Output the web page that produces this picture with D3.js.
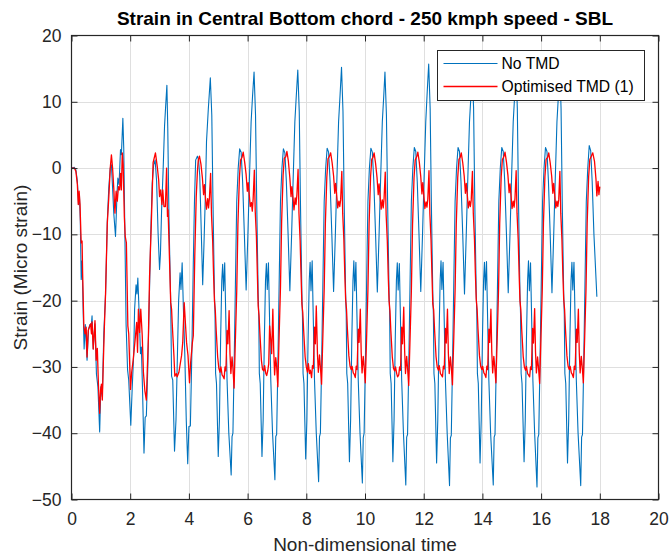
<!DOCTYPE html>
<html>
<head>
<meta charset="utf-8">
<script src="https://cdn.jsdelivr.net/npm/d3@7"></script>
<style>
  body { margin: 0; background: #fff; }
  svg { display: block; font-family: "Liberation Sans", Arial, Helvetica, sans-serif; }
</style>
</head>
<body>
<svg id="chart" width="670" height="554"></svg>
<script>
// Axis ticks
const xTicks = [0, 2, 4, 6, 8, 10, 12, 14, 16, 18, 20];
const yTicks = [-50, -40, -30, -20, -10, 0, 10, 20];

const titleText = "Strain in Central Bottom chord - 250 kmph speed - SBL";
const xLabel = "Non-dimensional time";
const yLabel = "Strain (Micro strain)";
const seriesNames = ["No TMD", "Optimised TMD (1)"];

// Strain without damper: [non-dimensional time, micro strain]
const noTmd = [
  [0,0],[0.1,0.1],[0.15,-0.3],[0.2,-2],[0.24,-5.5],[0.27,-4],[0.3,-8],[0.33,-16.8],[0.36,-14],[0.4,-22],[0.43,-27.3],[0.47,-23.6],[0.53,-29],[0.58,-24.3],[0.63,-23.6],[0.68,-23.5],[0.7,-22.3],[0.74,-27.3],[0.8,-23.5],[0.85,-31.1],[0.9,-33],[0.96,-39.8],[1.0,-33],[1.05,-34.5],[1.1,-25],[1.16,-19],[1.22,-8],[1.27,-3],[1.32,0],[1.36,0.5],[1.4,-3],[1.44,-6.8],[1.5,-10.3],[1.55,-4],[1.58,-1.5],[1.62,-2.5],[1.67,2.8],[1.7,2],[1.75,7.5],[1.78,3],[1.82,-10.3],[1.86,-23.6],[1.91,-30.4],[1.95,-32],
  [2.02,-38.8],[2.07,-33],[2.12,-28],[2.15,-21.3],[2.2,-17.6],[2.23,-19],[2.26,-16.6],[2.3,-21.3],[2.35,-28],[2.38,-27],[2.42,-33.4],[2.47,-43],[2.51,-37.6],[2.55,-37.4],[2.6,-30],[2.64,-22],[2.7,-10],[2.75,-2.3],[2.8,0.5],[2.85,1.2],[2.9,-2],[2.95,-9.8],[3.0,-15.3],[3.03,-13],[3.07,-6.3],[3.12,-0.5],[3.17,6.3],[3.21,9.5],
  [3.25,12.5],[3.28,6],[3.32,-7.3],[3.38,-20.3],[3.41,-31.4],[3.45,-32],[3.51,-42.7],[3.56,-38],[3.61,-28],[3.65,-20],[3.7,-15.8],[3.73,-18.3],[3.77,-14.3],[3.81,-20.8],[3.86,-28],[3.91,-38],[3.96,-44.6],[4.0,-39],[4.05,-38.9],[4.1,-28],[4.15,-14.3],[4.19,-5],[4.23,1.2],[4.29,1.8],[4.33,1.2],[4.37,-1.2],[4.42,-9.3],[4.47,-17.6],[4.51,-12],[4.56,-4.3],[4.6,4],[4.66,8.8],
  [4.73,13.6],[4.78,8],[4.82,-5],[4.87,-19],[4.89,-22],[4.91,-31],[4.94,-32.5],[5.00,-43.5],[5.04,-38],[5.08,-26],[5.12,-17],[5.15,-14.5],[5.18,-18.5],[5.22,-14.3],[5.25,-21],[5.30,-32],[5.36,-40],[5.44,-46.3],[5.47,-40.5],[5.50,-40],[5.54,-30],[5.59,-16],[5.63,-5],[5.68,0],[5.73,2.9],[5.78,2.4],[5.83,-2],[5.89,-10],[5.95,-18.4],[6.01,-10],[6.06,-2],[6.12,7],[6.17,11],
  [6.22,14.5],[6.27,8],[6.31,-5],[6.36,-19],[6.38,-22],[6.40,-31],[6.43,-32.5],[6.49,-43.5],[6.53,-38],[6.57,-26],[6.61,-17],[6.64,-14.4],[6.67,-18.3],[6.71,-14.3],[6.74,-21],[6.79,-32],[6.85,-40],[6.93,-47],[6.96,-40.5],[6.99,-40.2],[7.03,-30],[7.08,-16],[7.12,-5],[7.17,0],[7.22,2.9],[7.27,2.3],[7.32,-2],[7.38,-10],[7.44,-18.5],[7.50,-10],[7.55,-2],[7.61,7],[7.66,11],
  [7.71,14.8],[7.76,8.5],[7.80,-5],[7.85,-19],[7.87,-22.5],[7.89,-31],[7.92,-32.5],[7.98,-43.9],[8.02,-38],[8.06,-26],[8.10,-17],[8.13,-14.2],[8.16,-18.5],[8.20,-14.0],[8.23,-21],[8.28,-32],[8.34,-40],[8.42,-47.3],[8.45,-40.5],[8.48,-40],[8.52,-30],[8.57,-16],[8.61,-5],[8.66,0],[8.71,3.0],[8.76,2.4],[8.81,-2],[8.87,-10],[8.93,-18.6],[8.99,-10],[9.04,-2],[9.10,7],[9.15,11],
  [9.20,15.2],[9.25,8.5],[9.29,-5],[9.34,-19],[9.36,-22],[9.38,-31],[9.41,-32.5],[9.47,-44.3],[9.51,-38],[9.55,-26],[9.59,-17],[9.62,-14.0],[9.65,-18.5],[9.69,-14.2],[9.72,-21],[9.77,-32],[9.83,-40],[9.91,-47.5],[9.94,-40.7],[9.97,-40],[10.01,-30],[10.06,-16],[10.10,-5],[10.15,0],[10.20,3.0],[10.25,2.4],[10.30,-2],[10.36,-10],[10.42,-18.7],[10.48,-10],[10.53,-2],[10.59,7],[10.64,11],
  [10.68,14.5],[10.73,8],[10.77,-5],[10.82,-19],[10.84,-22],[10.86,-31],[10.89,-32.5],[10.95,-44.3],[10.99,-38],[11.03,-26],[11.07,-17],[11.10,-14.3],[11.13,-18.4],[11.17,-14.4],[11.20,-21],[11.25,-32],[11.31,-40],[11.39,-47.8],[11.42,-40.6],[11.45,-40.2],[11.49,-30],[11.54,-16],[11.58,-5],[11.63,0],[11.68,3.1],[11.73,2.5],[11.78,-2],[11.84,-10],[11.90,-18.6],[11.96,-10],[12.01,-2],[12.07,7],[12.12,11.5],
  [12.17,15.7],[12.22,9],[12.26,-5],[12.31,-19],[12.33,-22],[12.35,-31],[12.38,-32.5],[12.44,-44.5],[12.48,-38],[12.52,-26],[12.56,-17],[12.59,-14.0],[12.62,-18.3],[12.66,-14.2],[12.69,-21],[12.74,-32],[12.80,-40],[12.88,-47.9],[12.91,-40.7],[12.94,-40.3],[12.98,-30],[13.03,-16],[13.07,-5],[13.12,0],[13.17,3.1],[13.22,2.5],[13.27,-2],[13.33,-10],[13.39,-19.0],[13.45,-10],[13.50,-2],[13.56,7],[13.61,11],
  [13.65,15.5],[13.70,9],[13.74,-5],[13.79,-19],[13.81,-22],[13.83,-31],[13.86,-32.5],[13.92,-44.5],[13.96,-38],[14.00,-26],[14.04,-17],[14.07,-14.2],[14.10,-18.4],[14.14,-14.1],[14.17,-21],[14.22,-32],[14.28,-40],[14.37,-47.8],[14.40,-40.6],[14.43,-40.2],[14.47,-30],[14.52,-16],[14.56,-5],[14.61,0],[14.66,3.1],[14.71,2.5],[14.76,-2],[14.82,-10],[14.88,-18.8],[14.94,-10],[14.99,-2],[15.05,7],[15.10,11],
  [15.14,16],[15.19,9],[15.23,-5],[15.28,-19],[15.30,-22],[15.32,-31],[15.35,-32.5],[15.42,-44.3],[15.46,-38],[15.50,-26],[15.54,-17],[15.57,-14.0],[15.60,-18.5],[15.64,-14.3],[15.67,-21],[15.72,-32],[15.78,-40],[15.86,-48.1],[15.89,-40.7],[15.92,-40.2],[15.96,-30],[16.01,-16],[16.05,-5],[16.10,0],[16.15,3.1],[16.20,2.5],[16.25,-2],[16.31,-10],[16.37,-18.8],[16.43,-10],[16.48,-2],[16.54,7],[16.59,11],
  [16.63,16],[16.68,9],[16.72,-5],[16.77,-19],[16.79,-22],[16.81,-31],[16.84,-32.5],[16.90,-44.5],[16.94,-38],[16.98,-26],[17.02,-17],[17.05,-14.2],[17.08,-18.4],[17.12,-14.2],[17.15,-21],[17.20,-32],[17.26,-40],[17.35,-47.9],[17.38,-40.6],[17.41,-40.2],[17.45,-30],[17.50,-16],[17.54,-5],[17.59,0],[17.64,3.4],[17.69,2.6],[17.74,-2],[17.80,-10],[17.90,-19.4]
];

// Strain with the optimised tuned mass damper: [non-dimensional time, micro strain]
const withTmd = [
  [0,0],[0.1,0],[0.15,-0.5],[0.2,-2.5],[0.23,-5.5],[0.26,-3.5],[0.29,-5.5],[0.33,-11.3],[0.36,-11],[0.38,-16],[0.42,-23.8],[0.46,-25],[0.5,-24],[0.53,-28.5],[0.57,-24.5],[0.61,-24],[0.65,-23.5],[0.68,-25],[0.7,-23.2],[0.74,-27.3],[0.8,-23],[0.84,-29],[0.88,-27.2],[0.92,-33],[0.96,-37],[0.99,-33.5],[1.02,-32.6],[1.05,-35],[1.08,-30],[1.12,-24],[1.16,-19],[1.22,-8.3],[1.27,-4.5],[1.32,0],[1.36,2],[1.4,0],[1.44,-3],[1.48,-6.8],[1.52,-3.5],[1.56,-5],[1.6,-2.8],[1.64,-3.3],[1.67,-0.8],[1.7,-3.3],[1.73,2.3],[1.76,0.5],[1.8,-7.3],[1.83,-10.3],[1.87,-11.3],[1.92,-23.8],[1.95,-25],
  [2.01,-33.4],[2.05,-30.8],[2.1,-29],[2.17,-25.8],[2.22,-23.3],[2.25,-27.8],[2.28,-21.3],[2.32,-24.8],[2.36,-21.3],[2.41,-25.3],[2.45,-30.8],[2.5,-33.6],[2.55,-35],[2.58,-30.8],[2.62,-25.5],[2.66,-16.3],[2.72,-8.3],[2.78,0.8],[2.86,2.3],[2.92,0.3],[2.97,-1.8],[3.0,-4.3],[3.04,-3.3],[3.08,-5.5],[3.11,-3.3],[3.15,-5.8],[3.2,-5.8],[3.24,0],[3.27,-7.3],[3.29,-6.3],[3.32,-10.8],[3.38,-20.3],[3.41,-21.3],[3.43,-23.3],[3.49,-28.3],[3.52,-31.4],[3.57,-31],[3.6,-31.5],[3.66,-30.8],[3.71,-29.4],[3.75,-28.3],[3.79,-26.3],[3.84,-20.3],[3.88,-23.3],[3.92,-26.3],[3.97,-28.3],[4.02,-32.4],[4.06,-29.3],[4.12,-26.3],[4.15,-25.3],[4.2,-13.3],[4.25,-4.3],[4.29,-0.5],
  [4.32,1.2],[4.36,1.8],[4.41,0.6],[4.46,-1.5],[4.50,-4.0],[4.53,-2.5],[4.57,-4.8],[4.60,-6.2],[4.64,-4.6],[4.67,-6.0],[4.70,-4.5],[4.74,-0.8],[4.77,-7.0],[4.81,-11],[4.84,-16],[4.87,-20],[4.90,-21.5],[4.93,-24.5],[4.98,-28.5],[5.02,-30.2],[5.06,-30.8],[5.09,-30.0],[5.13,-31.2],[5.16,-31.4],[5.20,-31.8],[5.23,-30.0],[5.26,-30.6],[5.30,-24.5],[5.33,-26.5],[5.37,-21.5],[5.40,-28.0],[5.43,-31.0],[5.47,-28.5],[5.50,-30.2],[5.54,-33.2],[5.58,-26.5],[5.63,-18.5],[5.67,-8.5],[5.72,-1.5],[5.76,1.2],
  [5.81,1.6],[5.85,2.4],[5.90,0.9],[5.95,-1.0],[5.99,-3.5],[6.02,-2.2],[6.06,-4.2],[6.09,-5.8],[6.13,-5.2],[6.16,-6.5],[6.19,-4.6],[6.23,-0.3],[6.26,-6.5],[6.30,-10.3],[6.33,-15.5],[6.36,-20.8],[6.39,-22.3],[6.42,-25],[6.47,-29],[6.51,-30.4],[6.55,-30.6],[6.58,-29.8],[6.62,-31.0],[6.65,-31.3],[6.69,-30.5],[6.72,-29.5],[6.75,-23.8],[6.79,-26],[6.82,-28],[6.86,-21.3],[6.89,-27.5],[6.92,-31.2],[6.96,-28.6],[6.99,-30.0],[7.03,-33.0],[7.07,-26.0],[7.12,-18.0],[7.16,-8.0],[7.21,-1.0],[7.25,1.5],
  [7.30,1.7],[7.34,2.5],[7.39,1.0],[7.44,-1.5],[7.48,-4.3],[7.51,-2.8],[7.55,-4.6],[7.58,-6.3],[7.62,-4.5],[7.65,-5.5],[7.68,-4.0],[7.72,-0.2],[7.75,-6.8],[7.79,-11],[7.82,-16],[7.85,-20.5],[7.88,-21.8],[7.91,-24.5],[7.96,-28.5],[8.00,-30.0],[8.04,-30.8],[8.07,-29.5],[8.11,-31.0],[8.14,-30.5],[8.18,-31.6],[8.21,-29.8],[8.24,-30.2],[8.28,-24.0],[8.31,-26.5],[8.34,-20.8],[8.38,-28.0],[8.41,-30.8],[8.45,-28.2],[8.48,-30.0],[8.52,-32.6],[8.56,-26.0],[8.61,-18.2],[8.65,-8.3],[8.70,-1.3],[8.74,1.4],
  [8.79,1.8],[8.83,2.3],[8.88,0.8],[8.93,-1.2],[8.97,-3.8],[9.00,-2.3],[9.04,-4.3],[9.07,-6.0],[9.11,-5.0],[9.14,-5.8],[9.17,-4.8],[9.21,-0.5],[9.24,-6.8],[9.28,-10.8],[9.31,-15.8],[9.34,-19.8],[9.37,-21.3],[9.40,-24.3],[9.45,-28.3],[9.49,-29.9],[9.53,-30.4],[9.56,-29.9],[9.60,-30.9],[9.63,-31.1],[9.67,-31.6],[9.70,-29.9],[9.73,-30.4],[9.77,-24.3],[9.80,-26.3],[9.84,-21.3],[9.87,-27.8],[9.90,-30.9],[9.94,-28.4],[9.97,-29.9],[10.01,-32.4],[10.05,-26.3],[10.10,-18.3],[10.14,-8.3],[10.19,-1.3],[10.23,1.3],
  [10.27,1.6],[10.31,2.3],[10.36,0.7],[10.41,-1.4],[10.45,-4.0],[10.48,-2.4],[10.52,-4.5],[10.55,-6.2],[10.59,-4.8],[10.62,-6.0],[10.65,-4.6],[10.69,-0.6],[10.72,-7.0],[10.76,-11],[10.79,-16],[10.82,-20],[10.85,-21.5],[10.88,-24.5],[10.93,-28.5],[10.97,-30.2],[11.01,-30.6],[11.04,-30.0],[11.08,-31.0],[11.11,-31.5],[11.15,-31.2],[11.18,-30.0],[11.21,-30.5],[11.25,-24.0],[11.28,-26.5],[11.32,-21.0],[11.35,-27.5],[11.38,-31.0],[11.42,-28.4],[11.45,-30.2],[11.49,-32.8],[11.53,-26.5],[11.58,-18.5],[11.62,-8.5],[11.67,-1.5],[11.71,1.2],
  [11.76,1.7],[11.80,2.4],[11.85,0.9],[11.90,-1.3],[11.94,-3.9],[11.97,-2.2],[12.01,-4.4],[12.04,-6.1],[12.08,-5.1],[12.11,-5.9],[12.14,-4.7],[12.18,-0.4],[12.21,-6.9],[12.25,-10.9],[12.28,-15.9],[12.31,-20.5],[12.34,-21.4],[12.37,-24.4],[12.42,-28.4],[12.46,-30.0],[12.50,-30.5],[12.53,-29.8],[12.57,-31.0],[12.60,-31.2],[12.64,-31.5],[12.67,-29.9],[12.70,-30.3],[12.74,-24.2],[12.77,-26.4],[12.81,-21.3],[12.84,-27.9],[12.87,-31.0],[12.91,-28.5],[12.94,-30.0],[12.98,-32.7],[13.02,-26.4],[13.07,-18.4],[13.11,-8.4],[13.16,-1.4],[13.20,1.3],
  [13.24,1.6],[13.28,2.3],[13.33,0.8],[13.38,-1.2],[13.42,-3.8],[13.45,-2.3],[13.49,-4.3],[13.52,-6.0],[13.56,-5.0],[13.59,-5.8],[13.62,-4.8],[13.66,-0.5],[13.69,-6.8],[13.73,-10.8],[13.76,-15.8],[13.79,-19.8],[13.82,-21.3],[13.85,-24.3],[13.90,-28.3],[13.94,-29.9],[13.98,-30.4],[14.01,-29.9],[14.05,-30.9],[14.08,-31.1],[14.12,-31.6],[14.15,-29.9],[14.18,-30.4],[14.22,-24.3],[14.25,-26.3],[14.29,-21.3],[14.32,-27.8],[14.35,-30.9],[14.39,-28.4],[14.42,-29.9],[14.46,-32.4],[14.50,-26.3],[14.55,-18.3],[14.59,-8.3],[14.64,-1.3],[14.68,1.3],
  [14.73,1.7],[14.77,2.4],[14.82,0.9],[14.87,-1.1],[14.91,-3.7],[14.94,-2.4],[14.98,-4.4],[15.01,-6.1],[15.05,-5.0],[15.08,-5.9],[15.11,-4.6],[15.15,-0.4],[15.18,-6.8],[15.22,-10.8],[15.25,-15.8],[15.28,-20.0],[15.31,-21.4],[15.34,-24.4],[15.39,-28.4],[15.43,-30.0],[15.47,-30.5],[15.50,-29.9],[15.54,-31.0],[15.57,-31.2],[15.61,-31.5],[15.64,-30.0],[15.67,-30.4],[15.71,-24.2],[15.74,-26.4],[15.78,-21.2],[15.81,-27.8],[15.84,-30.9],[15.88,-28.5],[15.91,-30.0],[15.95,-32.5],[15.99,-26.3],[16.04,-18.3],[16.08,-8.3],[16.13,-1.3],[16.17,1.3],
  [16.22,1.6],[16.26,2.3],[16.31,0.8],[16.36,-1.2],[16.40,-3.8],[16.43,-2.3],[16.47,-4.3],[16.50,-6.0],[16.54,-5.0],[16.57,-5.8],[16.60,-4.8],[16.64,-0.5],[16.67,-6.8],[16.71,-10.8],[16.74,-15.8],[16.77,-19.8],[16.80,-21.3],[16.83,-24.3],[16.88,-28.3],[16.92,-29.9],[16.96,-30.4],[16.99,-29.9],[17.03,-30.9],[17.06,-31.1],[17.10,-31.6],[17.13,-29.9],[17.16,-30.4],[17.20,-24.3],[17.23,-26.3],[17.27,-21.3],[17.30,-27.8],[17.33,-30.9],[17.37,-28.4],[17.40,-29.9],[17.44,-32.4],[17.48,-26.3],[17.53,-18.3],[17.57,-8.3],[17.62,-1.3],[17.66,1.3],
  [17.71,1.8],[17.76,2.3],[17.82,1.0],[17.87,-1.7],[17.90,-4.2],[17.94,-2],[17.97,-4],[18.0,-2.8]
];

const colors = { noTmd: "#0072BD", withTmd: "#FF0000" };
const ink = "#262626";

const svg = d3.select("#chart");
const plot = { left: 71.5, right: 658.5, top: 35.5, bottom: 499.5 };

const x = d3.scaleLinear().domain([0, 20]).range([plot.left, plot.right]);
const y = d3.scaleLinear().domain([-50, 20]).range([plot.bottom, plot.top]);

// Grid
const grid = svg.append("g").attr("stroke", "#dfdfdf").attr("stroke-width", 1);
grid.selectAll("line.v").data(xTicks.slice(1, -1)).join("line")
  .attr("x1", d => Math.round(x(d)) + 0.5).attr("x2", d => Math.round(x(d)) + 0.5)
  .attr("y1", plot.top).attr("y2", plot.bottom);
grid.selectAll("line.h").data(yTicks.slice(1, -1)).join("line")
  .attr("y1", d => Math.round(y(d)) + 0.5).attr("y2", d => Math.round(y(d)) + 0.5)
  .attr("x1", plot.left).attr("x2", plot.right);

// Data lines
const line = d3.line().x(d => x(d[0])).y(d => y(d[1]));
svg.append("path").datum(noTmd)
  .attr("fill", "none").attr("stroke", colors.noTmd).attr("stroke-width", 1.1)
  .attr("stroke-linejoin", "round").attr("d", line);
svg.append("path").datum(withTmd)
  .attr("fill", "none").attr("stroke", colors.withTmd).attr("stroke-width", 1.3)
  .attr("stroke-linejoin", "round").attr("d", line);

// Axes with inward ticks on all four sides
function styleAxis(g) {
  g.select(".domain").remove();
  g.selectAll(".tick line").attr("stroke", ink).attr("stroke-width", 1);
  g.selectAll(".tick text").attr("fill", ink).attr("font-size", 17.5)
    .attr("font-family", '"Liberation Sans", Arial, sans-serif');
}
svg.append("g").attr("transform", `translate(0,${plot.bottom})`)
  .call(d3.axisBottom(x).tickValues(xTicks).tickSizeInner(-6).tickSizeOuter(0).tickPadding(13))
  .call(styleAxis);
svg.append("g").attr("transform", `translate(0,${plot.top})`)
  .call(d3.axisTop(x).tickValues(xTicks).tickSizeInner(-6).tickSizeOuter(0).tickFormat(""))
  .call(styleAxis);
svg.append("g").attr("transform", `translate(${plot.left},0)`)
  .call(d3.axisLeft(y).tickValues(yTicks).tickSizeInner(-6).tickSizeOuter(0).tickPadding(10))
  .call(styleAxis);
svg.append("g").attr("transform", `translate(${plot.right},0)`)
  .call(d3.axisRight(y).tickValues(yTicks).tickSizeInner(-6).tickSizeOuter(0).tickFormat(""))
  .call(styleAxis);

// Axes box
svg.append("rect")
  .attr("x", plot.left).attr("y", plot.top)
  .attr("width", plot.right - plot.left).attr("height", plot.bottom - plot.top)
  .attr("fill", "none").attr("stroke", ink).attr("stroke-width", 1.2);

// Title and axis labels
svg.append("text").attr("x", (plot.left + plot.right) / 2).attr("y", 25)
  .attr("text-anchor", "middle").attr("font-weight", "bold").attr("font-size", 19)
  .attr("fill", "#000").text(titleText);
svg.append("text").attr("x", (plot.left + plot.right) / 2).attr("y", 551)
  .attr("text-anchor", "middle").attr("font-size", 19).attr("fill", ink).text(xLabel);
svg.append("text")
  .attr("transform", `translate(27,${(plot.top + plot.bottom) / 2}) rotate(-90)`)
  .attr("text-anchor", "middle").attr("font-size", 19).attr("fill", ink).text(yLabel);

// Legend
const legend = svg.append("g").attr("transform", "translate(437.5,50.5)");
legend.append("rect").attr("width", 207).attr("height", 50)
  .attr("fill", "#fff").attr("stroke", ink).attr("stroke-width", 1);
const items = [
  { name: seriesNames[0], color: colors.noTmd, w: 1.1 },
  { name: seriesNames[1], color: colors.withTmd, w: 1.3 }
];
items.forEach((it, i) => {
  const cy = 13 + i * 23;
  legend.append("line").attr("x1", 6).attr("x2", 60).attr("y1", cy).attr("y2", cy)
    .attr("stroke", it.color).attr("stroke-width", it.w);
  legend.append("text").attr("x", 64).attr("y", cy).attr("dy", "0.35em")
    .attr("font-size", 15.7).attr("fill", "#000").text(it.name);
});
</script>
</body>
</html>
